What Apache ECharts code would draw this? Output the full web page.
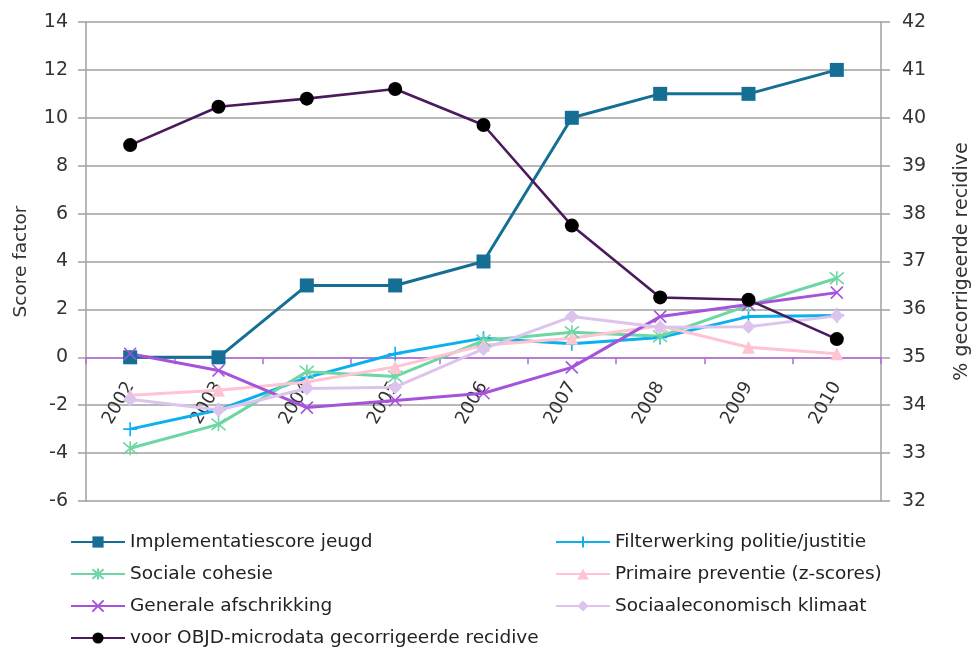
<!DOCTYPE html>
<html>
<head>
<meta charset="utf-8">
<script src="https://cdn.jsdelivr.net/npm/echarts@6/dist/echarts.min.js"></script>
<style>
html,body{margin:0;padding:0;background:#fff;}
#chart{width:980px;height:648px;}
</style>
</head>
<body>
<div id="chart"></div>
<script>
const years = ['2002','2003','2004','2005','2006','2007','2008','2009','2010'];
const implementatie = [0, 0, 3, 3, 4, 10, 11, 11, 12];
const filterwerking = [-3.0, -2.2, -0.85, 0.15, 0.8, 0.57, 0.83, 1.7, 1.75];
const socialeCohesie = [-3.8, -2.8, -0.6, -0.8, 0.7, 1.05, 0.88, 2.17, 3.3];
const primairePreventie = [-1.58, -1.38, -1.03, -0.4, 0.5, 0.8, 1.32, 0.42, 0.15];
const generaleAfschrikking = [0.15, -0.55, -2.1, -1.8, -1.5, -0.42, 1.7, 2.2, 2.7];
const sociaaleconomisch = [-1.75, -2.2, -1.3, -1.25, 0.35, 1.7, 1.25, 1.28, 1.73];
const recidive = [39.43, 40.23, 40.4, 40.6, 39.85, 37.75, 36.25, 36.2, 35.38];
const leftTicks = {min: -6, max: 14, interval: 2};
const rightTicks = {min: 32, max: 42, interval: 1};

const names = ['Implementatiescore jeugd','Filterwerking politie/justitie','Sociale cohesie','Primaire preventie (z-scores)','Generale afschrikking','Sociaaleconomisch klimaat','voor OBJD-microdata gecorrigeerde recidive'];

const FONT = 'DejaVu Sans';
const plusPath = 'path://M5,0 L5,10 M0,5 L10,5';
const starPath = 'path://M0,0 L10,10 M10,0 L0,10 M5,-1 L5,11';
const xPath = 'path://M0,0 L10,10 M10,0 L0,10';

function mk(name, data, color, symbol, size, opts) {
  const s = {
    name: name, type: 'line', data: data, color: color,
    symbol: symbol, symbolSize: size,
    lineStyle: {width: 3, color: color},
    itemStyle: {color: color},
    z: 2
  };
  return Object.assign(s, opts || {});
}
function stroked(color){ return {color: 'rgba(0,0,0,0)', borderColor: color, borderWidth: 1.6}; }

const series = [
  mk(names[0], implementatie, '#156f95', 'rect', 14),
  mk(names[1], filterwerking, '#0bb0ee', plusPath, 14, {itemStyle: stroked('#0bb0ee')}),
  mk(names[2], socialeCohesie, '#6dd6a4', starPath, 14, {itemStyle: stroked('#6dd6a4')}),
  mk(names[3], primairePreventie, '#ffc3d1', 'triangle', 13),
  mk(names[4], generaleAfschrikking, '#a653dc', xPath, 12, {itemStyle: stroked('#a653dc')}),
  mk(names[5], sociaaleconomisch, '#dcc4ef', 'diamond', 14),
  mk(names[6], recidive, '#4a1a5c', 'circle', 14, {yAxisIndex: 1, itemStyle: {color: '#000'}, lineStyle: {width: 2.6, color: '#4a1a5c'}, z: 3})
];

const GRID_TOP = 22, GRID_BOTTOM = 147, H = 648;
const plotH = H - GRID_TOP - GRID_BOTTOM;
const zeroOffset = -plotH * (0 - leftTicks.min) / (leftTicks.max - leftTicks.min);

const chart = echarts.init(document.getElementById('chart'));
const legendCommon = {
  orient: 'vertical', top: 527, height: 200, itemWidth: 54, itemHeight: 14, itemGap: 12,
  textStyle: {fontFamily: FONT, fontSize: 18.5, color: '#222', lineHeight: 20}
};
chart.setOption({
  animation: false,
  backgroundColor: '#fff',
  grid: {left: 86, right: 96, top: GRID_TOP, bottom: GRID_BOTTOM, containLabel: false},
  legend: [
    Object.assign({}, legendCommon, {left: 65, data: [names[0], names[2], names[4], names[6]]}),
    Object.assign({}, legendCommon, {left: 550, data: [names[1], names[3], names[5]]})
  ],
  xAxis: {
    type: 'category', data: years, boundaryGap: true,
    offset: zeroOffset,
    axisLine: {onZero: false, lineStyle: {color: '#b36ae2', width: 1.5}},
    axisTick: {show: true, length: 7, lineStyle: {color: '#b36ae2', width: 1.5}},
    axisLabel: {rotate: 60, margin: 26, fontFamily: FONT, fontSize: 18, color: '#333'},
    splitLine: {show: false}
  },
  yAxis: [
    {
      type: 'value', min: leftTicks.min, max: leftTicks.max, interval: leftTicks.interval,
      name: 'Score factor', nameLocation: 'middle', nameGap: 55, nameRotate: 90,
      nameTextStyle: {fontFamily: FONT, fontSize: 18.5, color: '#333'},
      axisLine: {show: true, lineStyle: {color: '#a0a0a0', width: 1.5}},
      axisTick: {show: true, length: 8, lineStyle: {color: '#a0a0a0', width: 1.5}},
      axisLabel: {fontFamily: FONT, fontSize: 19, color: '#333', margin: 18},
      splitLine: {show: true, lineStyle: {color: '#a0a0a0', width: 1.5}}
    },
    {
      type: 'value', min: rightTicks.min, max: rightTicks.max, interval: rightTicks.interval,
      position: 'right',
      name: '% gecorrigeerde recidive', nameLocation: 'middle', nameGap: 72, nameRotate: 90,
      nameTextStyle: {fontFamily: FONT, fontSize: 19, color: '#333'},
      axisLine: {show: true, lineStyle: {color: '#a0a0a0', width: 1.5}},
      axisTick: {show: true, length: 9, lineStyle: {color: '#a0a0a0', width: 1.5}},
      axisLabel: {fontFamily: FONT, fontSize: 19, color: '#333', margin: 21},
      splitLine: {show: false}
    }
  ],
  series: series
});
</script>
</body>
</html>
